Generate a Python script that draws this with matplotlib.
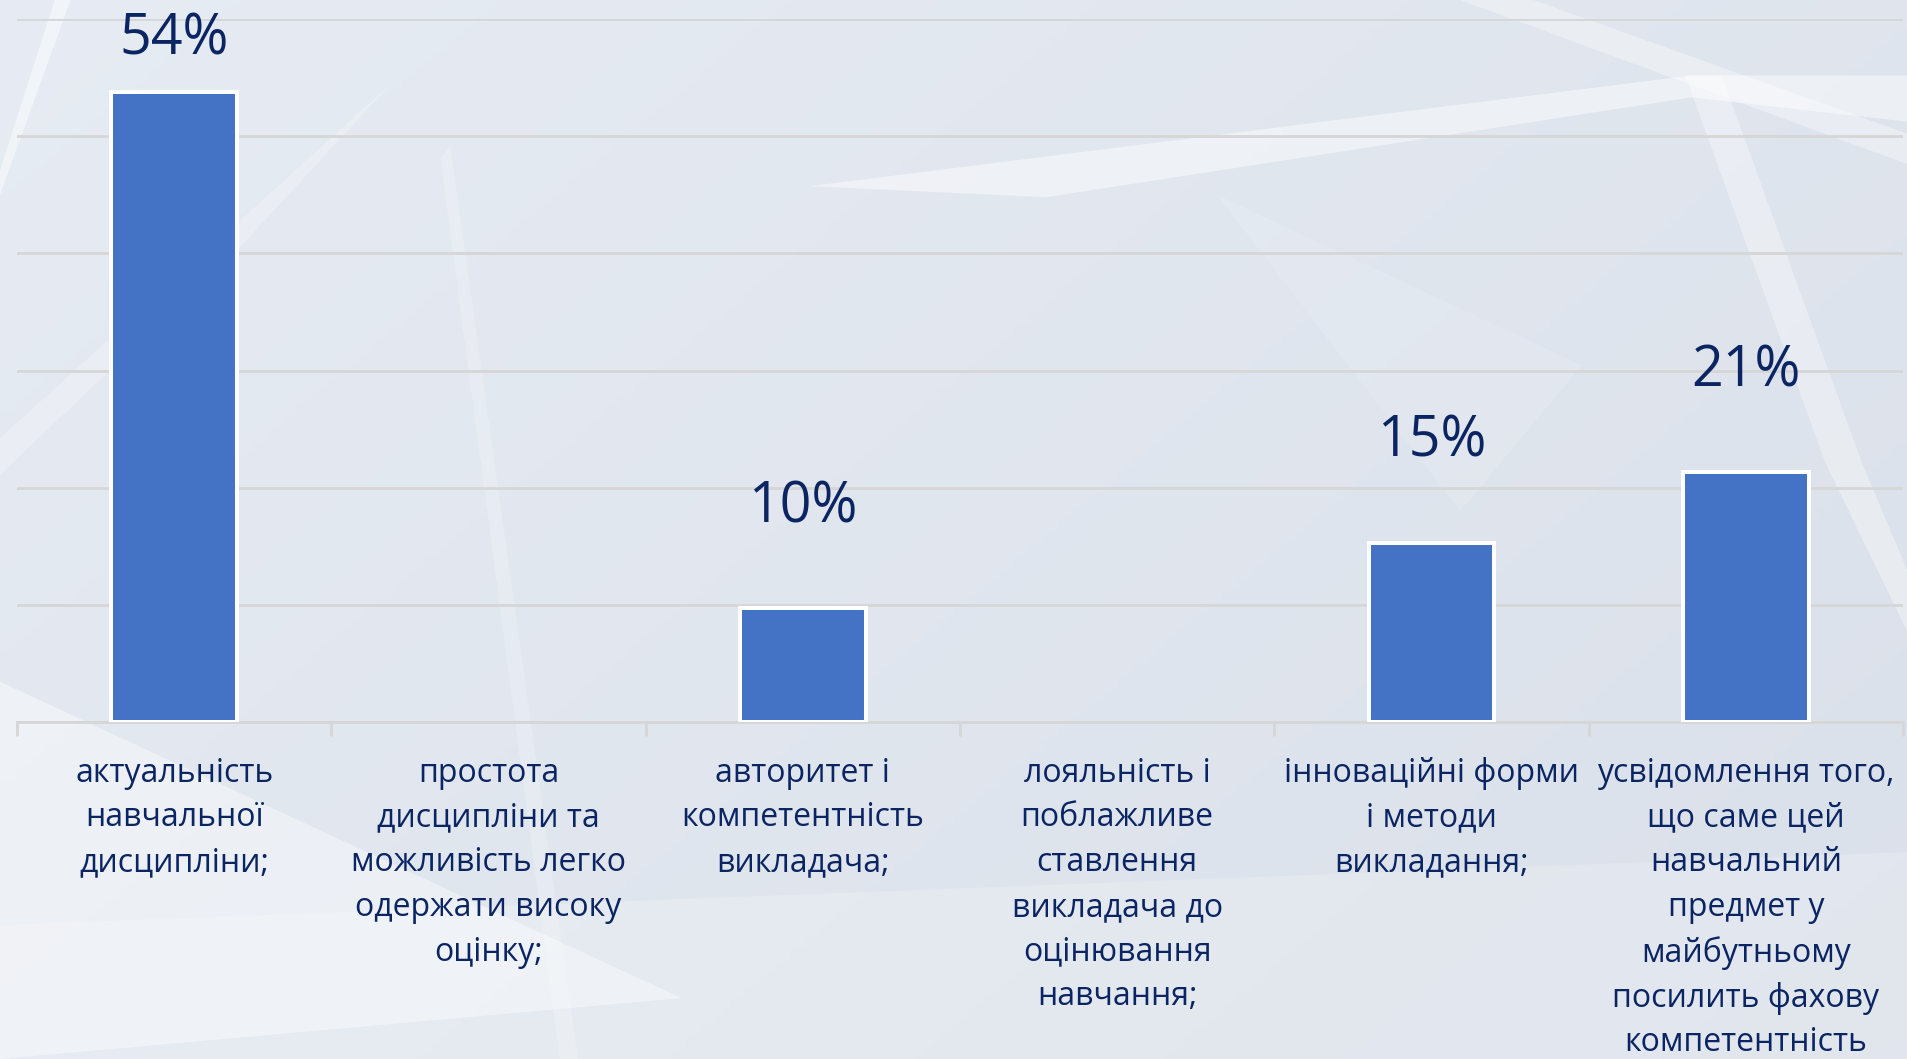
import matplotlib
matplotlib.use("Agg")
import matplotlib.pyplot as plt
from matplotlib.patches import Polygon
import numpy as np

# ---- data ----
categories = [
    "актуальність\nнавчальної\nдисципліни;",
    "простота\nдисципліни та\nможливість легко\nодержати високу\nоцінку;",
    "авторитет і\nкомпетентність\nвикладача;",
    "лояльність і\nпоблажливе\nставлення\nвикладача до\nоцінювання\nнавчання;",
    "інноваційні форми\nі методи\nвикладання;",
    "усвідомлення того,\nщо саме цей\nнавчальний\nпредмет у\nмайбутньому\nпосилить фахову\nкомпетентність",
]
values = [53.8, None, 9.7, None, 15.3, 21.3]
y_ticks = [0, 10, 20, 30, 40, 50, 60]

BAR = "#4472C4"
TXT = "#0B2563"
GRID = "#D6D6D6"
FONT = ["Open Sans", "DejaVu Sans"]

W, H, DPI = 1908, 1059, 100
fig = plt.figure(figsize=(W / DPI, H / DPI), dpi=DPI)

# ---- background ----
bg = fig.add_axes([0, 0, 1, 1], zorder=-10)
grad = np.linspace(0, 1, 256)
gx, gy = np.meshgrid(grad, grad)
c1 = np.array([0.905, 0.925, 0.955])
c2 = np.array([0.855, 0.878, 0.915])
t = (0.6 * gx + 0.4 * (1 - gy))
img = c1[None, None, :] * (1 - t[..., None]) + c2[None, None, :] * t[..., None]
bg.imshow(img, extent=[0, 1, 0, 1], aspect="auto", origin="lower")
bg.set_xlim(0, 1); bg.set_ylim(0, 1); bg.axis("off")

def sp(pts):
    return [(x / 1568, 1 - y / 870) for x, y in pts]

decor = [
    ([(665, 153), (1390, 62), (1568, 62), (1568, 100), (1390, 80), (860, 162)], 0.45),
    ([(1200, 0), (1260, 0), (1568, 110), (1568, 135)], 0.35),
    ([(1385, 62), (1415, 62), (1530, 380), (1568, 470), (1568, 520), (1500, 380)], 0.35),
    ([(0, 560), (560, 820), (0, 870)], 0.4),
    ([(0, 760), (1568, 700), (1568, 870), (0, 870)], 0.2),
    ([(0, 140), (45, 0), (58, 0), (0, 160)], 0.45),
    ([(0, 360), (320, 70), (200, 200), (0, 390)], 0.25),
    ([(1000, 160), (1200, 420), (1300, 300)], 0.12),
    ([(370, 120), (475, 870), (460, 870), (362, 130)], 0.2),
]
for pts, a in decor:
    bg.add_patch(Polygon(sp(pts), closed=True, facecolor="white", edgecolor="none", alpha=a))

# ---- chart ----
ax = fig.add_axes([17 / W, 1 - 722 / H, (1903 - 17) / W, (722 - 19) / H])
ax.patch.set_alpha(0)
x = np.arange(len(categories))
bx = [xi for xi, v in zip(x, values) if v is not None]
bv = [v for v in values if v is not None]
ax.bar(bx, bv, width=0.40, color=BAR, edgecolor="white", linewidth=2.9, zorder=3)

for xi, v in zip(bx, bv):
    ypos = min(v + 8.6, 58.2)
    ax.text(xi, ypos, f"{v:.0f}%", ha="center", va="center", fontsize=40,
            color=TXT, family=FONT, zorder=4, clip_on=False)

ax.set_xlim(-0.5, len(categories) - 0.5)
ax.set_ylim(0, 60)
ax.set_yticks(y_ticks)
ax.yaxis.grid(True, color=GRID, linewidth=2, zorder=0)
ax.tick_params(axis="y", left=False, labelleft=False)
for s in ["top", "right", "left"]:
    ax.spines[s].set_visible(False)
ax.spines["bottom"].set_color(GRID)
ax.spines["bottom"].set_linewidth(2)
ax.spines["bottom"].set_zorder(1)

ax.set_xticks(x)
ax.set_xticklabels(categories, fontsize=23, color=TXT, family=FONT, linespacing=1.47, va="top")
ax.tick_params(axis="x", length=0, pad=25)
ax.set_xticks(np.arange(len(categories) + 1) - 0.5, minor=True)
ax.tick_params(axis="x", which="minor", length=10, width=2, color=GRID)

fig.savefig("out.png", dpi=DPI)
